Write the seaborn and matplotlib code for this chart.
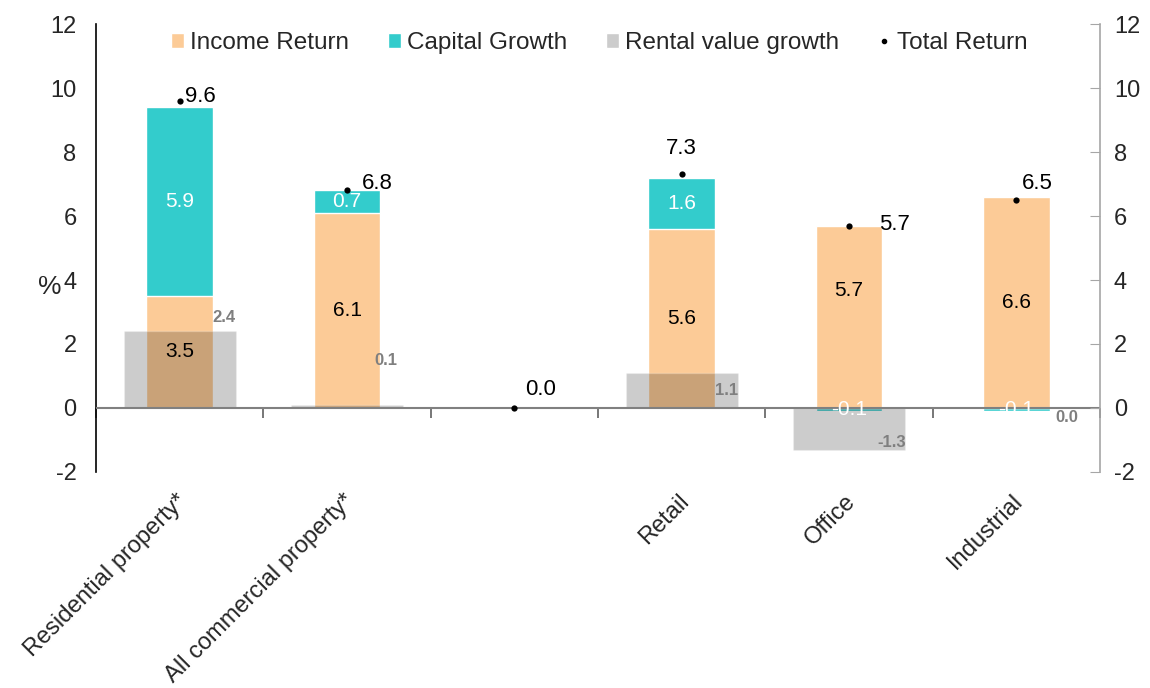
import numpy as np
import pandas as pd
import matplotlib
matplotlib.use('Agg')
import matplotlib.pyplot as plt
import matplotlib.transforms as mtransforms
from matplotlib.patches import Patch
from matplotlib.lines import Line2D
import seaborn as sns

# Chart values (% per year)
categories = ['Residential property*', 'All commercial property*', ' ', 'Retail', 'Office', 'Industrial']
income_return = [3.5, 6.1, 0.0, 5.6, 5.7, 6.6]
capital_growth = [5.9, 0.7, 0.0, 1.6, -0.1, -0.1]
rental_growth = [2.4, 0.1, 0.0, 1.1, -1.3, 0.0]
total_return = [9.6, 6.8, 0.0, 7.3, 5.7, 6.5]
y_ticks = [-2, 0, 2, 4, 6, 8, 10, 12]

# label nudges in points (styling only)
total_offsets = [(4, 3), (11, 5), (8, 13), (0, 19), (22, 1), (4, 12)]
income_offsets = [0, 0, 0, 0, 19, 0]
rental_offsets = [(0, 10), (-4, 32), (0, -13), (1, 5), (4, -7)]

PEACH = '#FCCB97'
TEAL = '#33CCCC'
GREY_TXT = '#7F7F7F'

df = pd.DataFrame({
    'category': categories,
    'income': income_return,
    'capital': capital_growth,
    'rental': rental_growth,
    'total': total_return,
})
# teal bar sits on top of income when positive, hangs below zero when negative
df['teal_top'] = np.where(df['capital'] > 0, df['income'] + df['capital'], df['capital'])

sns.set_style('white')
plt.rcParams['font.family'] = ['Liberation Sans', 'DejaVu Sans']
plt.rcParams['axes.unicode_minus'] = False

fig = plt.figure(figsize=(11.5, 6.88), dpi=100)
ax = fig.add_axes([0.0835, 0.314, 0.873, 0.651])

sns.barplot(data=df, x='category', y='teal_top', order=categories, color=TEAL,
            saturation=1, width=0.4, ax=ax, zorder=2)
sns.barplot(data=df, x='category', y='income', order=categories, color=PEACH,
            saturation=1, width=0.4, ax=ax, zorder=2)
sns.barplot(data=df, x='category', y='rental', order=categories, color='black',
            alpha=0.2, saturation=1, width=0.67, ax=ax, zorder=3)
sns.stripplot(data=df, x='category', y='total', order=categories, color='black',
              jitter=False, size=4.5, ax=ax, zorder=5)

ax.axhline(0, color='#808080', lw=1.5, zorder=4)

# value labels
blank = [c.strip() == '' for c in categories]
ri = 0
for i, row in df.iterrows():
    ax.annotate(f"{row['total']:.1f}", xy=(i, row['total']), xytext=total_offsets[i],
                textcoords='offset points', ha='left' if total_offsets[i][0] else 'center',
                va='center', fontsize=16, color='black', zorder=6)
    if blank[i]:
        continue
    ax.annotate(f"{row['income']:.1f}", xy=(i, row['income'] / 2), xytext=(0, income_offsets[i]),
                textcoords='offset points', ha='center', va='center', fontsize=15,
                color='black', zorder=6)
    cap_mid = row['income'] + row['capital'] / 2 if row['capital'] > 0 else row['capital'] / 2
    ax.text(i, cap_mid, f"{row['capital']:.1f}", ha='center', va='center', fontsize=15,
            color='white', zorder=6)
    dx, dy = rental_offsets[ri]
    ri += 1
    ax.annotate(f"{row['rental']:.1f}", xy=(i + 0.335, row['rental']), xytext=(dx, dy),
                textcoords='offset points', ha='right', va='center', fontsize=12,
                fontweight='bold', color=GREY_TXT, zorder=6)

ax.set_xlim(-0.5, len(categories) - 0.5)
ax.set_ylim(y_ticks[0], y_ticks[-1])
ax.set_yticks(y_ticks)
ax.tick_params(axis='y', length=0, pad=14, labelsize=17)
ax.set_xticks(range(len(categories)))
ax.set_xticklabels(categories, rotation=45, ha='right', va='top', rotation_mode='anchor',
                   fontsize=17)
ax.tick_params(axis='x', length=0, pad=13)
shift = mtransforms.ScaledTranslation(-3 / 72, 0, fig.dpi_scale_trans)
for lbl in ax.get_xticklabels():
    lbl.set_transform(lbl.get_transform() + shift)
ax.set_xlabel('')
ax.set_ylabel('%', rotation=0, fontsize=19, va='center', ha='center')
ax.yaxis.set_label_coords(-0.046, 0.413)
for s in ['top', 'right', 'bottom']:
    ax.spines[s].set_visible(False)
ax.spines['left'].set_color('black')
ax.spines['left'].set_linewidth(1.2)

# boundary ticks on the zero line
zero_frac = (0 - y_ticks[0]) / (y_ticks[-1] - y_ticks[0])
sec = ax.secondary_xaxis(zero_frac)
sec.set_xticks(np.arange(-0.5, len(categories), 1.0))
sec.tick_params(axis='x', direction='out', length=7, width=1.2, color='#606060', labelbottom=False)
sec.spines['bottom'].set_visible(False)

# right-hand axis
ax2 = ax.twinx()
ax2.set_ylim(y_ticks[0], y_ticks[-1])
ax2.set_yticks(y_ticks)
ax2.tick_params(axis='y', direction='in', length=7, color='#A6A6A6', labelsize=17, pad=10)
for s in ['top', 'left', 'bottom']:
    ax2.spines[s].set_visible(False)
ax2.spines['right'].set_color('#A6A6A6')
ax2.spines['right'].set_linewidth(1.2)

handles = [
    Patch(facecolor=PEACH, label='Income Return'),
    Patch(facecolor=TEAL, label='Capital Growth'),
    Patch(facecolor='#CCCCCC', label='Rental value growth'),
    Line2D([], [], marker='o', color='black', lw=0, markersize=3, label='Total Return'),
]
fig.legend(handles=handles, loc='center', bbox_to_anchor=(0.521, 0.9375), ncol=4,
           frameon=False, fontsize=17.5, handlelength=0.55, handleheight=0.6,
           handletextpad=0.25, columnspacing=1.58)

fig.savefig('out.png', dpi=100)
